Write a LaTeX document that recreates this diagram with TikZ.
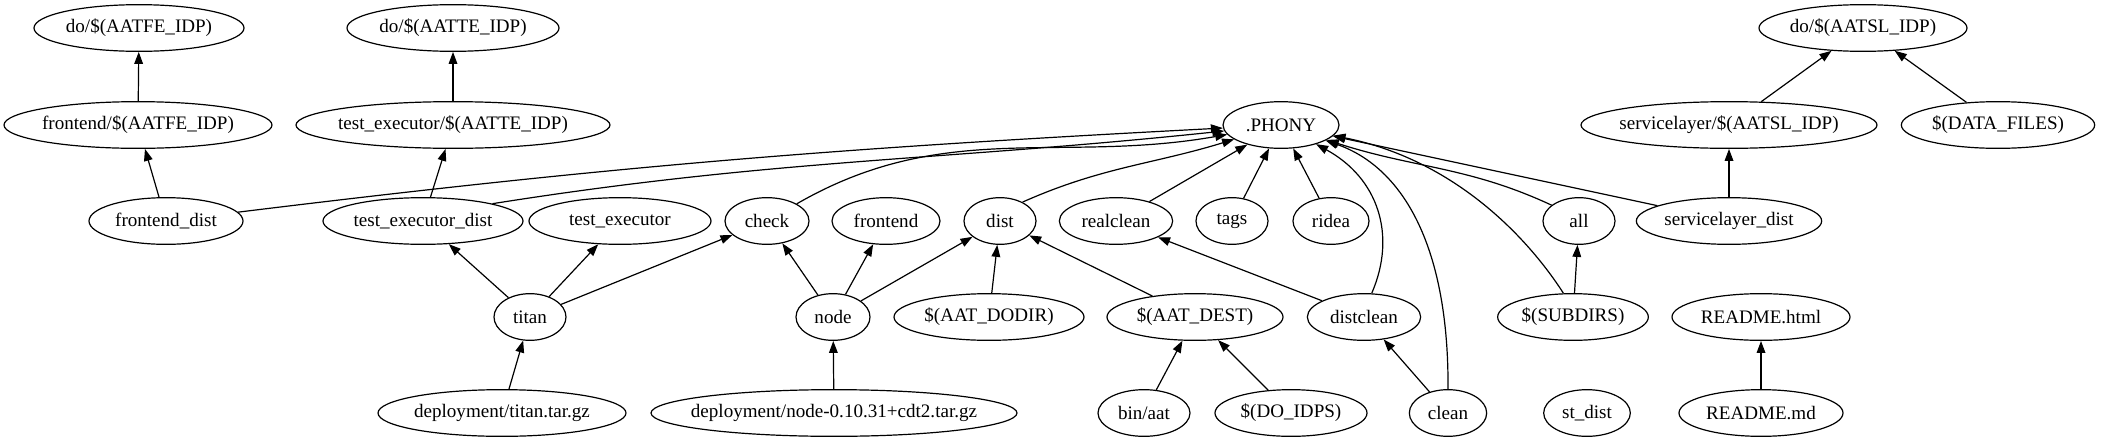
\documentclass[tikz,border=0pt]{standalone}
\usepackage{fontspec}
\setmainfont{Liberation Serif}
\usetikzlibrary{shapes.geometric,arrows.meta}
\begin{document}
\begin{tikzpicture}[x=0.75pt,y=-0.75pt,
  gv/.style={ellipse,draw,line width=0.9pt,inner xsep=-20pt,inner ysep=0pt,minimum height=35pt,font=\fontsize{14.3}{16}\selectfont},
  ed/.style={line width=0.9pt,-{Triangle[length=9pt,width=6.5pt]}}]
\useasboundingbox (0,0) rectangle (2110,443);
% row 1
\node[gv,minimum width=157.5pt] (feDo) at (139,28) {do/\$(AATFE\_IDP)};
\node[gv,minimum width=159pt] (teDo) at (453,28) {do/\$(AATTE\_IDP)};
\node[gv,minimum width=156pt] (slDo) at (1863,28) {do/\$(AATSL\_IDP)};
% row 2
\node[gv,minimum width=201pt] (feIdp) at (138,125) {frontend/\$(AATFE\_IDP)};
\node[gv,minimum width=235.5pt] (teIdp) at (453,125) {test\_executor/\$(AATTE\_IDP)};
\node[gv,minimum width=87pt] (phony) at (1281,125) {.PHONY};
\node[gv,minimum width=222pt] (slIdp) at (1729,125) {servicelayer/\$(AATSL\_IDP)};
\node[gv,minimum width=145pt] (datafiles) at (1998,125) {\$(DATA\_FILES)};
% row 3
\node[gv,minimum width=115.5pt] (feDist) at (166,221) {frontend\_dist};
\node[gv,minimum width=150pt] (teDist) at (423,221) {test\_executor\_dist};
\node[gv,minimum width=136.5pt] (teExec) at (620,221) {test\_executor};
\node[gv,minimum width=63pt] (check) at (767,221) {check};
\node[gv,minimum width=81pt] (frontend) at (886,221) {frontend};
\node[gv,minimum width=54pt] (dist) at (1000,221) {dist};
\node[gv,minimum width=85pt] (realclean) at (1116,221) {realclean};
\node[gv,minimum width=54pt] (tags) at (1232,221) {tags};
\node[gv,minimum width=57pt] (ridea) at (1331,221) {ridea};
\node[gv,minimum width=54pt] (all) at (1579,221) {all};
\node[gv,minimum width=139pt] (slDist) at (1729,221) {servicelayer\_dist};
% row 4
\node[gv,minimum width=54pt] (titan) at (530,317) {titan};
\node[gv,minimum width=55.5pt] (nodeN) at (833,317) {node};
\node[gv,minimum width=142.5pt] (dodir) at (989,317) {\$(AAT\_DODIR)};
\node[gv,minimum width=132pt] (dest) at (1195,317) {\$(AAT\_DEST)};
\node[gv,minimum width=85pt] (distclean) at (1364,317) {distclean};
\node[gv,minimum width=113pt] (subdirs) at (1573,317) {\$(SUBDIRS)};
\node[gv,minimum width=133.5pt] (readmeH) at (1761,317) {README.html};
% row 5
\node[gv,minimum width=186pt] (depTitan) at (502,413) {deployment/titan.tar.gz};
\node[gv,minimum width=274.5pt] (depNode) at (834,413) {deployment/node-0.10.31+cdt2.tar.gz};
\node[gv,minimum width=69pt] (binaat) at (1144,413) {bin/aat};
\node[gv,minimum width=114pt] (doidps) at (1291,413) {\$(DO\_IDPS)};
\node[gv,minimum width=58pt] (clean) at (1448,413) {clean};
\node[gv,minimum width=65pt] (stdist) at (1587,413) {st\_dist};
\node[gv,minimum width=123pt] (readmeM) at (1761,413) {README.md};
% edges
\draw[ed] (feIdp) -- (feDo);
\draw[ed] (feDist) -- (feIdp);
\draw[ed] (feDist) to[out=7,in=183] (phony);
\draw[ed] (teIdp) -- (teDo);
\draw[ed] (teDist) -- (teIdp);
\draw[ed] (teDist.14) to[out=9,in=186] (phony);
\draw[ed] (titan) -- (teDist);
\draw[ed] (titan) -- (teExec);
\draw[ed] (titan) -- (check);
\draw[ed] (depTitan) -- (titan);
\draw[ed] (check) to[out=30,in=190] (phony);
\draw[ed] (nodeN) -- (check);
\draw[ed] (nodeN) -- (frontend);
\draw[ed] (nodeN) -- (dist);
\draw[ed] (depNode) -- (nodeN);
\draw[ed] (dodir) -- (dist);
\draw[ed] (dest) -- (dist);
\draw[ed] (binaat) -- (dest);
\draw[ed] (doidps) -- (dest);
\draw[ed] (dist.40) to[out=24,in=197] (phony);
\draw[ed] (realclean) -- (phony);
\draw[ed] (tags) -- (phony);
\draw[ed] (ridea) -- (phony);
\draw[ed] (distclean) -- (realclean);
\draw[ed] (distclean.72) .. controls (1397,235) and (1378,178) .. (phony);
\draw[ed] (clean) -- (distclean);
\draw[ed] (clean.north) .. controls (1449,250) and (1405,168) .. (phony);
\draw[ed] (subdirs.112) .. controls (1528,238) and (1455,160) .. (phony);
\draw[ed] (subdirs) -- (all);
\draw[ed] (all.150) to[out=155,in=-18] (phony);
\draw[ed] (slDist) -- (phony);
\draw[ed] (slDist) -- (slIdp);
\draw[ed] (slIdp) -- (slDo);
\draw[ed] (datafiles) -- (slDo);
\draw[ed] (readmeM) -- (readmeH);
\end{tikzpicture}
\end{document}
